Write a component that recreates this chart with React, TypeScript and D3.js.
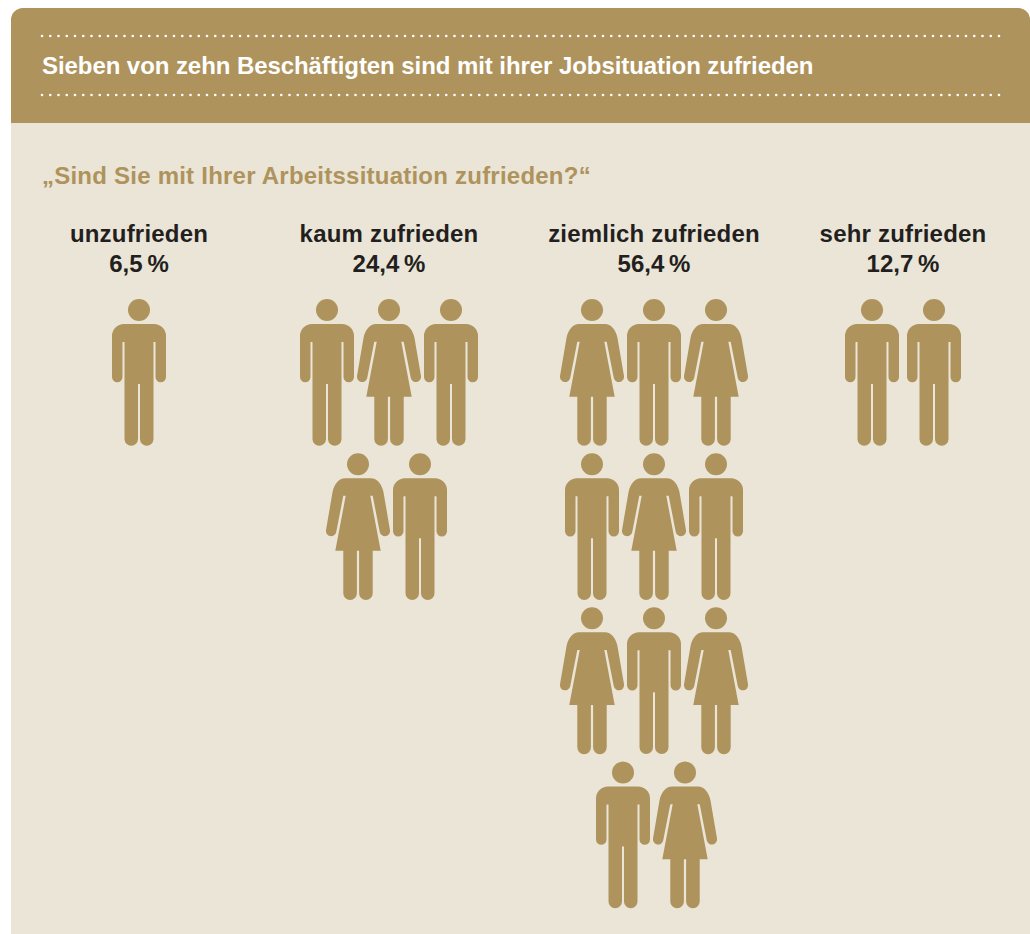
import * as d3 from 'd3';

const title = 'Sieben von zehn Beschäftigten sind mit ihrer Jobsituation zufrieden';
const question = '„Sind Sie mit Ihrer Arbeitssituation zufrieden?“';

const categories = ['unzufrieden', 'kaum zufrieden', 'ziemlich zufrieden', 'sehr zufrieden'];
const percents = [6.5, 24.4, 56.4, 12.7];

// one string per row, m = man, w = woman
const unzufriedenRows = ['m'];
const kaumRows = ['mwm', 'wm'];
const ziemlichRows = ['wmw', 'mwm', 'wmw', 'mw'];
const sehrRows = ['mm'];
const allRows = [unzufriedenRows, kaumRows, ziemlichRows, sehrRows];

const WIDTH = 1030;
const HEIGHT = 934;
const GOLD = '#ae935c';
const CREAM = '#eae5d6';
const INK = '#231f20';
const FONT = '"Liberation Sans", Arial, sans-serif';
const FONT_SIZE = 24;

const columnX = d3.scaleOrdinal<string, number>().domain(categories).range([139, 389, 654, 903]);
const rowY = d3.scaleLinear().domain([0, 3]).range([310, 772.5]);
const slotX = d3.scaleLinear().domain([0, 1]).range([0, 62]);
const dotX = d3.range(42, 1002, 8.25);

const fmt = d3.formatLocale({
	decimal: ',',
	thousands: '.',
	grouping: [3],
	currency: ['', ' €'],
}).format('.1f');

// icons are drawn around the head centre
const HEAD_R = 11;
const MAN =
	'M-15,14H15A12,12 0 0 1 27,26V67A5.25,5.25 0 0 1 16.5,67V32H14.5V129A6.75,6.75 0 0 1 1,129V74H-1V129A6.75,6.75 0 0 1 -14.5,129V32H-16.5V67A5.25,5.25 0 0 1 -27,67V26A12,12 0 0 1 -15,14Z';
const WOMAN =
	'M-13,14H13C19,14 24,20 25.5,28L32,66A5.2,5.2 0 0 1 21.8,68L14.7,31.7H12.3L22.7,86.7H14.7V129A6.7,6.7 0 0 1 1.1,129V86.7H-1.1V129A6.7,6.7 0 0 1 -14.7,129V86.7H-22.7L-12.3,31.7H-14.7L-21.8,68A5.2,5.2 0 0 1 -32,66L-25.5,28C-24,20 -19,14 -13,14Z';

function Person({ kind, x, y }: { kind: string; x: number; y: number }) {
	return (
		<g transform={`translate(${x},${y})`} fill={GOLD}>
			<circle r={HEAD_R} />
			<path d={kind === 'm' ? MAN : WOMAN} />
		</g>
	);
}

export default function App() {
	return (
		<svg
			width={WIDTH}
			height={HEIGHT}
			style={{
				position: 'absolute',
				left: 0,
				top: 0,
				fontFamily: FONT,
				fontWeight: 700,
				fontSize: FONT_SIZE,
			}}
		>
			<path
				d={`M11,${HEIGHT}V20A12,12 0 0 1 23,8H${WIDTH - 12}A12,12 0 0 1 ${WIDTH},20V${HEIGHT}Z`}
				fill={CREAM}
			/>
			<path
				d={`M11,123V20A12,12 0 0 1 23,8H${WIDTH - 12}A12,12 0 0 1 ${WIDTH},20V123Z`}
				fill={GOLD}
			/>
			{[36, 95].map((y) =>
				dotX.map((x) => <circle key={`${y}-${x}`} cx={x} cy={y} r={1.3} fill="#fff" />),
			)}
			<text x={42} y={74} letterSpacing={-0.07} fill="#fff">
				{title}
			</text>
			<text x={42} y={184} letterSpacing={0.23} fill={GOLD}>
				{question}
			</text>
			{categories.map((c, i) => (
				<g key={c}>
					<text x={columnX(c)} y={242} textAnchor="middle" letterSpacing={0.2} fill={INK}>
						{c}
					</text>
					<text x={columnX(c)} y={272} textAnchor="middle" fill={INK}>
						{fmt(percents[i])}
						{'\u2009%'}
					</text>
					{allRows[i].map((row, r) =>
						row.split('').map((kind, k) => (
							<Person
								key={`${r}-${k}`}
								kind={kind}
								x={columnX(c) + slotX(k - (row.length - 1) / 2)}
								y={rowY(r)}
							/>
						)),
					)}
				</g>
			))}
		</svg>
	);
}
